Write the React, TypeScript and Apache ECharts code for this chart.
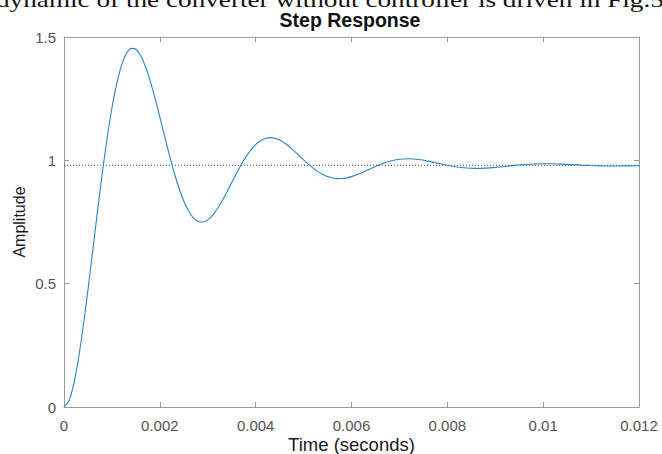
import React, { useEffect, useRef } from "react";
import * as echarts from "echarts";

// Time samples (seconds)
const timeFine = [
  0, 0.0001, 0.0002, 0.0003, 0.0004, 0.0005, 0.0006, 0.0007, 0.0008, 0.0009,
  0.001, 0.0011, 0.0012, 0.0013, 0.0014, 0.0015, 0.0016, 0.0017, 0.0018, 0.0019,
  0.002, 0.0021, 0.0022, 0.0023, 0.0024, 0.0025, 0.0026, 0.0027, 0.0028, 0.0029,
  0.003, 0.0031, 0.0032, 0.0033, 0.0034, 0.0035, 0.0036, 0.0037, 0.0038, 0.0039,
  0.004, 0.0041, 0.0042, 0.0043, 0.0044, 0.0045, 0.0046, 0.0047, 0.0048, 0.0049,
  0.005, 0.0051, 0.0052, 0.0053, 0.0054, 0.0055, 0.0056, 0.0057, 0.0058, 0.0059, 0.006,
];
const ampFine = [
  0, 0.0238, 0.0911, 0.1943, 0.3253, 0.4749, 0.6344, 0.7951, 0.9489, 1.09,
  1.2121, 1.3114, 1.3852, 1.4327, 1.454, 1.4506, 1.425, 1.3806, 1.3213, 1.2514,
  1.1752, 1.097, 1.0207, 0.9497, 0.887, 0.8348, 0.7945, 0.767, 0.7522, 0.7498,
  0.7586, 0.7772, 0.8036, 0.836, 0.8721, 0.9099, 0.9475, 0.983, 1.0149, 1.0422,
  1.0638, 1.0793, 1.0887, 1.0919, 1.0895, 1.082, 1.0704, 1.0556, 1.0386, 1.0205,
  1.0021, 0.9845, 0.9683, 0.9542, 0.9427, 0.9341, 0.9286, 0.926, 0.9262, 0.929, 0.9339,
];
const timeCoarse = [
  0.0062, 0.0064, 0.0066, 0.0068, 0.007, 0.0072, 0.0074, 0.0076, 0.0078, 0.008,
  0.0082, 0.0084, 0.0086, 0.0088, 0.009, 0.0092, 0.0094, 0.0096, 0.0098, 0.01,
  0.0102, 0.0104, 0.0106, 0.0108, 0.011, 0.0112, 0.0114, 0.0116, 0.0118, 0.012,
];
const ampCoarse = [
  0.9486, 0.9662, 0.983, 0.9963, 1.0042, 1.0063, 1.0033, 0.9967, 0.9882, 0.9799,
  0.9731, 0.9688, 0.9672, 0.9683, 0.9713, 0.9753, 0.9794, 0.9829, 0.9852, 0.9862,
  0.9859, 0.9845, 0.9827, 0.9806, 0.9789, 0.9776, 0.977, 0.9771, 0.9777, 0.9785,
];
const steadyState = [0.98];
const xRange = [0, 0.012];
const xStep = 0.002;
const yRange = [0, 1.5];
const yStep = 0.5;

const titleText = "Step Response";
const xName = "Time (seconds)";
const yName = "Amplitude";
const captionText = "dynamic of the converter without controller is driven in Fig.5";

export default function App() {
  const ref = useRef<HTMLDivElement>(null);

  useEffect(() => {
    if (!ref.current) return;
    const chart = echarts.init(ref.current, null, { renderer: "svg" });
    const times = [...timeFine, ...timeCoarse];
    const amps = [...ampFine, ...ampCoarse];
    const curve = times.map((t, i) => [t, amps[i]]);
    const refLine = [
      [xRange[0], steadyState[0]],
      [xRange[1], steadyState[0]],
    ];
    const axisGray = "#9a9a9a";
    const fmt = (v: number) => String(+Number(v).toFixed(4));
    const tick = { show: true, inside: true, length: 5, lineStyle: { color: axisGray, width: 1 } };
    const line = { show: true, onZero: false, lineStyle: { color: axisGray, width: 1 } };

    chart.setOption({
      animation: false,
      backgroundColor: "#ffffff",
      grid: {
        left: 64,
        right: 23,
        top: 37,
        bottom: 47,
        containLabel: false,
        outerBoundsMode: "none",
      },
      graphic: [
        {
          type: "text",
          x: -4,
          y: -1,
          scaleX: 1.237,
          style: {
            text: captionText,
            fontFamily: "Liberation Serif",
            fontSize: 22,
            fill: "#111111",
            textAlign: "left",
            textVerticalAlign: "middle",
          },
        },
        {
          type: "text",
          x: 350,
          y: 20,
          style: {
            text: titleText,
            fontFamily: "Liberation Sans",
            fontWeight: "bold",
            fontSize: 19.5,
            fill: "#111111",
            textAlign: "center",
            textVerticalAlign: "middle",
          },
        },
      ],
      xAxis: [
        {
          type: "value",
          min: xRange[0],
          max: xRange[1],
          interval: xStep,
          position: "bottom",
          name: xName,
          nameLocation: "middle",
          nameGap: 28,
          nameMoveOverlap: false,
          nameTextStyle: { fontFamily: "Liberation Sans", fontSize: 18.5, color: "#1a1a1a" },
          axisLine: line,
          axisTick: tick,
          axisLabel: {
            formatter: fmt,
            margin: 11,
            fontFamily: "Liberation Sans",
            fontSize: 15,
            color: "#555555",
          },
          splitLine: { show: false },
        },
        {
          type: "value",
          min: xRange[0],
          max: xRange[1],
          interval: xStep,
          position: "top",
          axisLine: line,
          axisTick: tick,
          axisLabel: { show: false },
          splitLine: { show: false },
        },
      ],
      yAxis: [
        {
          type: "value",
          min: yRange[0],
          max: yRange[1],
          interval: yStep,
          position: "left",
          name: yName,
          nameLocation: "middle",
          nameGap: 37,
          nameMoveOverlap: false,
          nameTextStyle: { fontFamily: "Liberation Sans", fontSize: 16, color: "#1a1a1a" },
          axisLine: line,
          axisTick: tick,
          axisLabel: {
            formatter: fmt,
            margin: 8,
            fontFamily: "Liberation Sans",
            fontSize: 15,
            color: "#555555",
          },
          splitLine: { show: false },
        },
        {
          type: "value",
          min: yRange[0],
          max: yRange[1],
          interval: yStep,
          position: "right",
          axisLine: line,
          axisTick: tick,
          axisLabel: { show: false },
          splitLine: { show: false },
        },
      ],
      series: [
        {
          type: "line",
          data: refLine,
          xAxisIndex: 0,
          yAxisIndex: 0,
          showSymbol: false,
          symbol: "none",
          silent: true,
          lineStyle: { color: "#444444", width: 1, type: [1, 2] },
        },
        {
          type: "line",
          data: curve,
          xAxisIndex: 0,
          yAxisIndex: 0,
          showSymbol: false,
          symbol: "none",
          smooth: 0.2,
          lineStyle: { color: "#2a86c8", width: 1.1 },
        },
      ],
    });
    return () => chart.dispose();
  }, []);

  return (
    <div
      ref={ref}
      style={{ position: "fixed", left: 0, top: 0, width: 662, height: 454, background: "#fff" }}
    />
  );
}
